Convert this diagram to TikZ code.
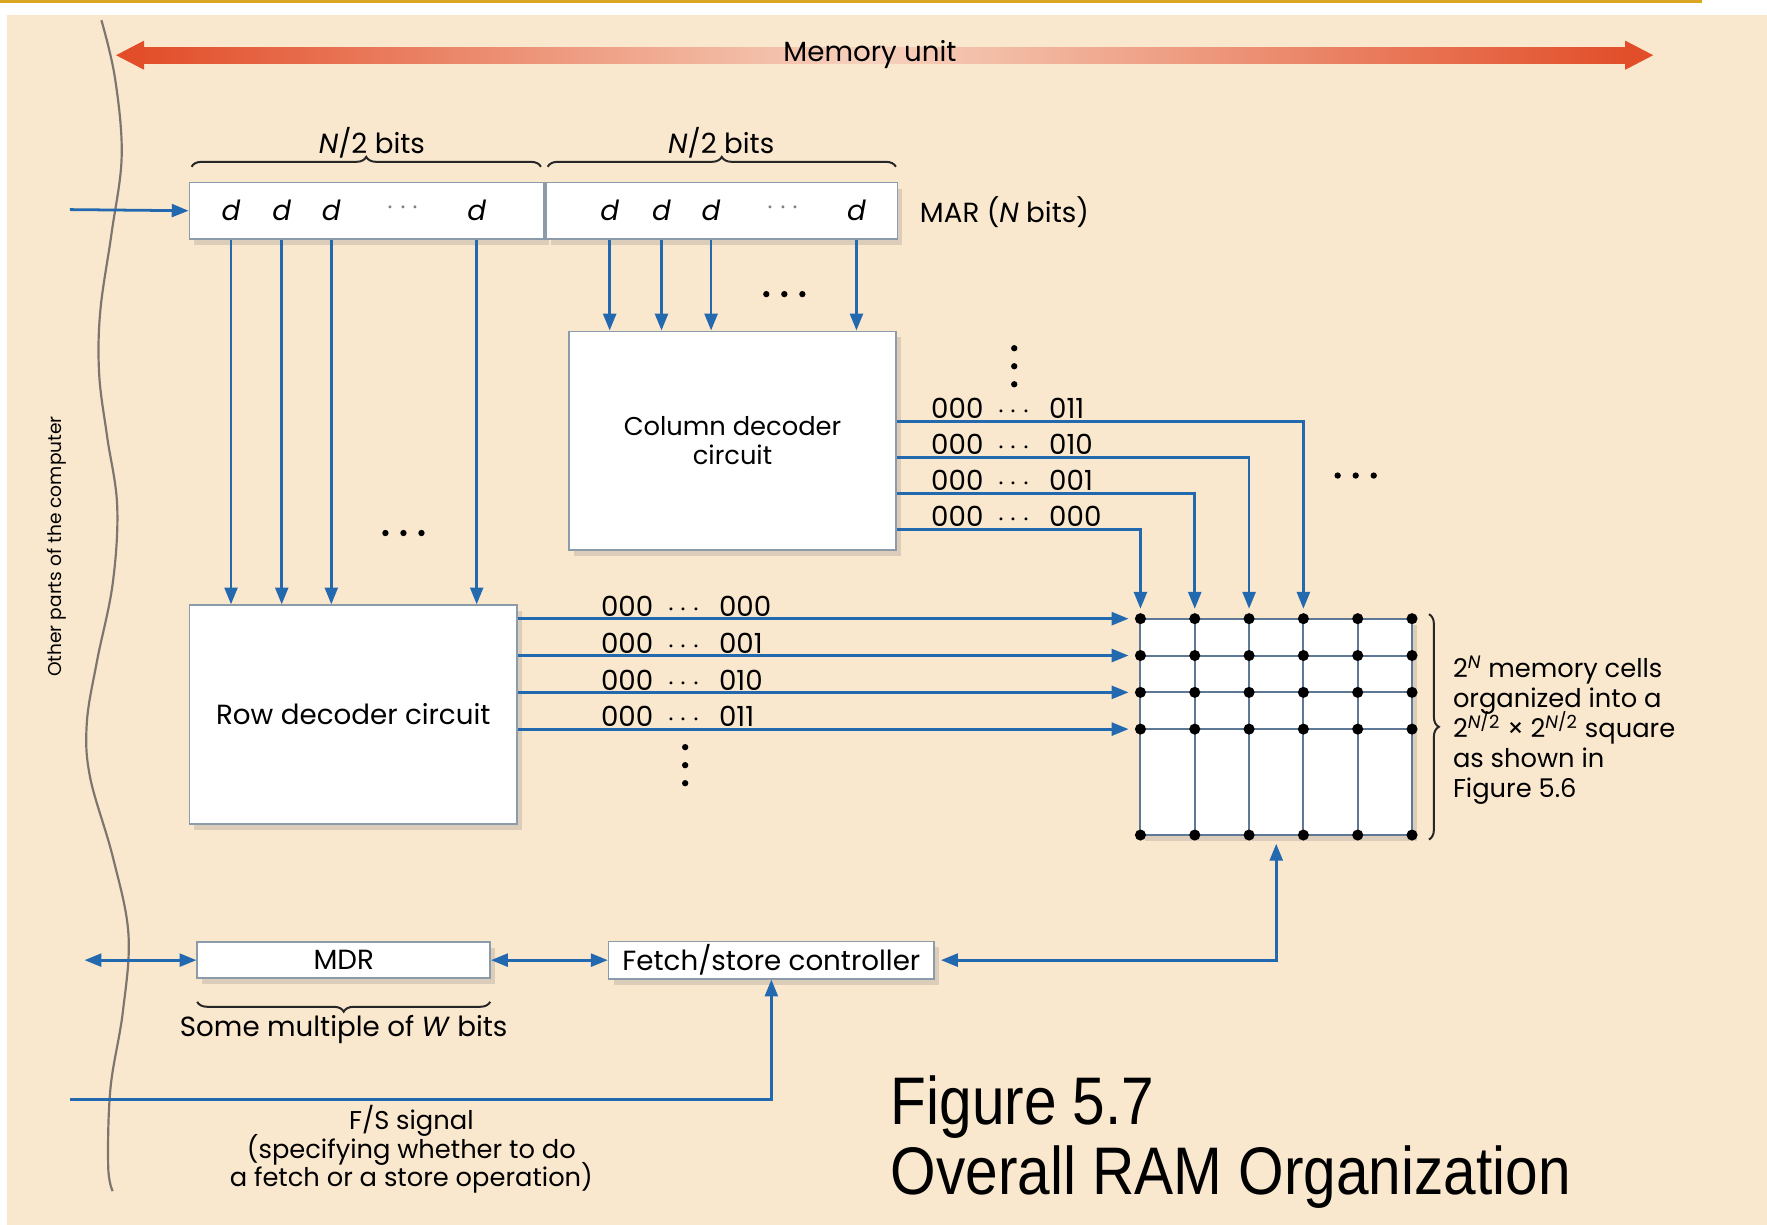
\documentclass[tikz,border=0pt]{standalone}
\usepackage{xcolor}
\usepackage{amsmath}
\usepackage{fontspec}
\setmainfont{Poppins}
\newfontfamily\captionfont{Liberation Sans}
\usepackage{tikz}
\usetikzlibrary{arrows, arrows.meta, positioning, shadows, decorations.pathreplacing}

\definecolor{pagebeige}{RGB}{250,232,206}
\definecolor{goldline}{RGB}{218,165,32}
\definecolor{wireblue}{RGB}{35,105,175}
\definecolor{boxedge}{RGB}{140,155,170}
\definecolor{gridline}{RGB}{95,120,150}
\definecolor{memred}{RGB}{226,78,42}
\definecolor{mempale}{RGB}{246,210,190}
\definecolor{waveline}{RGB}{125,118,110}

\newcommand{\lblfont}{\fontsize{14}{13.6}\selectfont}
\newcommand{\parafont}{\fontsize{13}{14.4}\selectfont\lineskiplimit=-20pt\relax}
\newcommand{\notefont}{\fontsize{13}{15.2}\selectfont\lineskiplimit=-20pt\relax}

\begin{document}
\begin{tikzpicture}[x=0.02cm, y=-0.02cm, >={Triangle[length=8.5pt, width=6.5pt]},
    box/.style={rectangle, draw=boxedge, line width=0.8pt, fill=white, inner sep=0pt, drop shadow={shadow xshift=2.5pt, shadow yshift=-3pt, opacity=0.25}},
    wire/.style={draw=wireblue, line width=1.4pt},
    lbl/.style={font=\lblfont, inner sep=0pt},
    para/.style={font=\parafont, inner sep=0pt},
    bit/.style={font=\fontsize{14}{16}\selectfont\itshape, inner sep=0pt},
    brc/.style={decorate, decoration={brace, amplitude=5pt}, draw=black!85, line width=1pt}]

    % page and background
    \useasboundingbox (0,0) rectangle (1568,1087);
    \fill[white] (0,0) rectangle (1568,1087);
    \fill[pagebeige] (6,13) rectangle (1568,1087);
    \draw[goldline, line width=1.5pt] (0,1) -- (1510,1);

    % memory unit arrow
    \shade[left color=memred, right color=mempale] (125,42) rectangle (773,56);
    \shade[left color=mempale, right color=memred] (773,42) rectangle (1445,56);
    \fill[memred] (103,49) -- (128,36) -- (128,62) -- cycle;
    \fill[memred] (1467,49) -- (1442,36) -- (1442,62) -- cycle;
    \node (memunit) [lbl] at (772,48) {Memory unit};

    % other parts of the computer
    \draw[waveline, line width=1.1pt] plot[smooth, tension=0.6] coordinates {(90,18) (102,69) (108,138) (99,207) (89,276) (88,332) (95,387) (104,449) (100,518) (86,587) (77,642) (80,690) (100,760) (114,829) (109,898) (98,966) (96,1035) (100,1057)};
    \node (others) [rotate=90, inner sep=0pt, font=\fontsize{9.4}{11}\selectfont] at (50,485) {Other parts of the computer};

    % MAR
    \node (marleft) [box, minimum width=6.3cm, minimum height=1cm] at (325.5,187) {};
    \node (marright) [box, right=0pt of marleft, minimum width=6.24cm, minimum height=1cm] {};
    \node (marlabel) [lbl, anchor=west] at (816,188) {MAR (\textit{N} bits)};
    \foreach \bx/\bn in {205/la, 250/lb, 294/lc, 423/ld, 541/ra, 587/rb, 631/rc, 760/rd}
        \node (\bn) [bit] at (\bx,187) {d};
    \node (ldots) [lbl, text=black!50] at (360,185) {$\cdots$};
    \node (rdots) [lbl, text=black!50] at (697,185) {$\cdots$};
    \draw[brc] (170,148) -- (480,148);
    \draw[brc] (486,148) -- (795,148);
    \node (lhalf) [lbl] at (330,127) {\textit{N}/2 bits};
    \node (rhalf) [lbl] at (640,127) {\textit{N}/2 bits};
    \coordinate (marin) at (62,186);
    \draw[wire, ->] (marin) -- (marleft.west);

    % decoders
    \node (coldec) [box, para, align=center, minimum width=5.8cm, minimum height=3.88cm] at (650,391) {Column decoder\\circuit};
    \node (rowdec) [box, lbl, minimum width=5.82cm, minimum height=3.88cm] at (313.5,634) {Row decoder circuit};
    \foreach \bn in {la, lb, lc, ld}
        \draw[wire, ->] (\bn |- marleft.south) -- (\bn |- rowdec.north);
    \foreach \bn in {ra, rb, rc, rd}
        \draw[wire, ->] (\bn |- marright.south) -- (\bn |- coldec.north);

    % dots
    \foreach \dx in {-16,0,16} {
        \fill (358+\dx,473) circle (1.6pt);
        \fill (696+\dx,261) circle (1.6pt);
        \fill (1203+\dx,422) circle (1.6pt);
        \fill (900,325+\dx) circle (1.6pt);
        \fill (608,679+\dx) circle (1.6pt);
        \fill (1132,688+\dx) circle (1.6pt);
    }

    % memory cells
    \node (cells) [box, draw=gridline, minimum width=4.82cm, minimum height=3.84cm] at (1132.5,645) {};
    \foreach \cx in {1012,1060.2,1108.4,1156.6,1204.8,1253}
        \draw[gridline, line width=1pt] (\cx,549) -- (\cx,741);
    \foreach \ry in {549,581.7,614.4,647}
        \draw[gridline, line width=1pt] (1012,\ry) -- (1253,\ry);
    \foreach \cx in {1012,1060.2,1108.4,1156.6,1204.8,1253}
        \foreach \ry in {549,581.7,614.4,647,741}
            \fill (\cx,\ry) circle (2.8pt);
    \draw[brc] (1268,545) -- (1268,745);
    \node (cellnote) [inner sep=0pt, font=\notefont, align=left, anchor=west] at (1289,648) {2\textsuperscript{\textit{N}} memory cells\\organized into a\\2\textsuperscript{\textit{N}/2} × 2\textsuperscript{\textit{N}/2} square\\as shown in\\Figure 5.6};

    % row lines
    \foreach \ry/\code [count=\i] in {549/000, 581.7/001, 614.4/010, 647/011} {
        \coordinate (row\i) at (1012,\ry);
        \draw[wire, ->, shorten >=6pt] (rowdec.east |- row\i) -- (row\i);
        \node (rowlab\i) [lbl, anchor=west] at (533,{\ry-11}) {000\enspace$\cdots$\enspace\code};
    }

    % column lines
    \foreach \ly/\cx/\code in {470/1012/000, 438/1060.2/001, 406/1108.4/010, 374/1156.6/011} {
        \coordinate (bend\code) at (\cx,\ly);
        \coordinate (col\code) at (\cx,549);
        \draw[wire, ->, shorten >=5pt] (coldec.east |- bend\code) -- (bend\code) -- (col\code);
        \node (collab\code) [lbl, anchor=west] at (826,{\ly-12}) {000\enspace$\cdots$\enspace\code};
    }

    % MDR and controller
    \node (mdr) [box, lbl, minimum width=5.2cm, minimum height=0.64cm] at (305,852) {MDR};
    \node (ctrl) [box, lbl, minimum width=5.78cm, minimum height=0.66cm] at (684.5,852) {Fetch/store controller};
    \coordinate (mdrout) at (75,852);
    \draw[wire, <->] (mdrout) -- (mdr.west);
    \draw[wire, <->] (mdr.east) -- (ctrl.west);
    \draw[wire, <->, shorten <=3pt, shorten >=4pt] (ctrl.east) -| (cells.south);
    \draw[brc] (435,889) -- (175,889);
    \node (mdrwidth) [lbl] at (305,914) {Some multiple of \textit{W} bits};
    \coordinate (fsin) at (62,976);
    \draw[wire, ->] (fsin) -| (ctrl.south);
    \node (fslabel) [para, align=center] at (365,1020) {F/S signal\\(specifying whether to do\\a fetch or a store operation)};

    % caption
    \node (figno) [anchor=base west, inner sep=0pt, font=\captionfont\fontsize{34}{40}\selectfont] at (790,998) {\scalebox{0.87}[1]{Figure 5.7}};
    \node (figtitle) [anchor=base west, inner sep=0pt, font=\captionfont\fontsize{34}{40}\selectfont] at (790,1060) {\scalebox{0.87}[1]{Overall RAM Organization}};
\end{tikzpicture}
\end{document}
